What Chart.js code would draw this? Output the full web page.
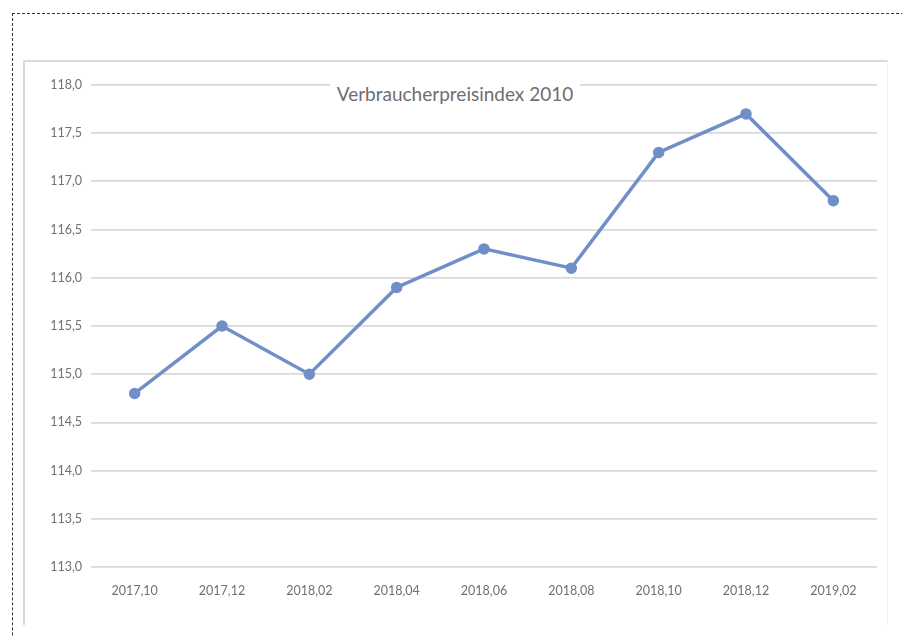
<!DOCTYPE html>
<html lang="de">
<head>
    <meta charset="UTF-8">
    <title>Verbraucherpreisindex 2010</title>
    <style>
        body {
            margin: 0;
            width: 902px;
            height: 637px;
            overflow: hidden;
            background: #fff;
            font-family: Lato, sans-serif;
            position: relative;
        }

        .dashedFrame {
            position: absolute;
            left: 12px;
            top: 13px;
            width: 1000px;
            height: 1000px;
            border: 1px dashed #333;
        }

        .chartBox {
            position: absolute;
            left: 23px;
            top: 60px;
            width: 862px;
            height: 563px;
            border-top: 2px solid #dadada;
            border-left: 2px solid #dadada;
            border-right: 1px solid #f2f2f2;
            background: #fff;
        }

        #chartTitle {
            position: absolute;
            left: 330px;
            top: 80px;
            width: 250px;
            height: 28px;
            line-height: 28px;
            text-align: center;
            background: #fff;
            color: #6e6e6e;
            font-size: 19px;
        }
    </style>
</head>
<body>
    <div class="dashedFrame"></div>
    <div class="chartBox">
        <canvas id="cpiChart" width="862" height="563"></canvas>
    </div>
    <div id="chartTitle">Verbraucherpreisindex 2010</div>

    <script src="https://cdn.jsdelivr.net/npm/chart.js"></script>
    <script>
        const months = ["2017,10", "2017,12", "2018,02", "2018,04", "2018,06", "2018,08", "2018,10", "2018,12", "2019,02"];
        const indexValues = [114.8, 115.5, 115.0, 115.9, 116.3, 116.1, 117.3, 117.7, 116.8];
        const yMin = 113;
        const yMax = 118;
        const yStep = 0.5;

        const lineColor = "rgb(112, 142, 200)";

        const ctx = document.getElementById("cpiChart").getContext("2d");
        new Chart(ctx, {
            type: "line",
            data: {
                labels: months,
                datasets: [{
                    data: indexValues,
                    borderColor: lineColor,
                    backgroundColor: lineColor,
                    borderWidth: 3.5,
                    pointRadius: 4,
                    pointHoverRadius: 4,
                    tension: 0
                }]
            },
            options: {
                responsive: false,
                animation: false,
                layout: {
                    padding: { top: 23, right: 10, bottom: 0, left: 0 }
                },
                plugins: {
                    legend: { display: false },
                    tooltip: { enabled: false }
                },
                scales: {
                    x: {
                        offset: true,
                        grid: { display: false },
                        border: { display: false },
                        ticks: {
                            color: "#707070",
                            font: { family: "Lato", size: 12.5 },
                            padding: 8,
                            maxRotation: 0
                        },
                        afterFit: (scale) => { scale.height = 58; }
                    },
                    y: {
                        min: yMin,
                        max: yMax,
                        grid: {
                            color: "#d9d9d9",
                            lineWidth: 1.8,
                            drawTicks: false
                        },
                        border: { display: false },
                        ticks: {
                            stepSize: yStep,
                            color: "#707070",
                            font: { family: "Lato", size: 12.5 },
                            padding: 9,
                            callback: (v) => v.toFixed(1).replace(".", ",")
                        },
                        afterFit: (scale) => { scale.width = 66; }
                    }
                }
            }
        });
    </script>
</body>
</html>
